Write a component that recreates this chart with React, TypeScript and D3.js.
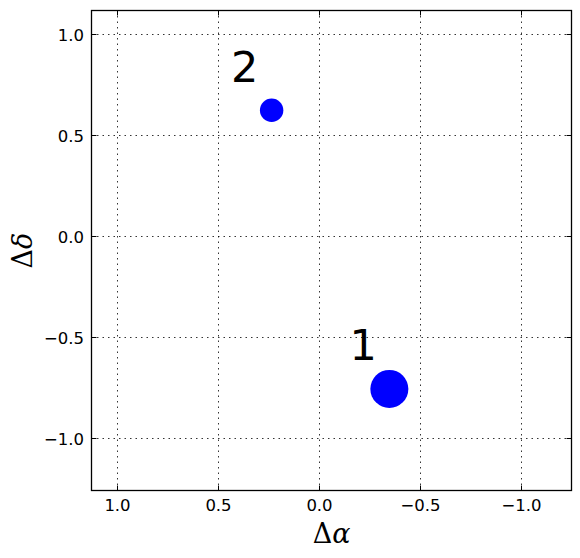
import React from "react";
import * as d3 from "d3";

const pointIds = ["1", "2"];
const pointX = [-0.35, 0.233];
const pointY = [-0.757, 0.623];
const pointR = [19, 11.7];
const labelX = [-0.22, 0.367];
const labelY = [-0.615, 0.762];
const xTicks = [1.0, 0.5, 0.0, -0.5, -1.0];
const yTicks = [1.0, 0.5, 0.0, -0.5, -1.0];
const xDomain = [1.125, -1.252];
const yDomain = [-1.26, 1.117];

const W = 580, H = 558;
const L = 91.5, R = 571.5, T = 10.5, B = 490.5;

const fmt = (v: number) => (v < 0 ? "\u2212" : "") + Math.abs(v).toFixed(1);

export default function App() {
  const x = d3.scaleLinear().domain(xDomain).range([L, R]);
  const y = d3.scaleLinear().domain(yDomain).range([B, T]);
  const tickLen = 5;
  const font = "DejaVu Sans, sans-serif";
  const tfs = 16.5;
  return (
    <svg width={W} height={H} style={{ position: "absolute", left: 0, top: 0 }}>
      <rect x={0} y={0} width={W} height={H} fill="#fff" />
      {xTicks.map((t) => (
        <line key={"gx" + t} x1={Math.round(x(t)) + 0.5} x2={Math.round(x(t)) + 0.5} y1={T} y2={B}
          stroke="#000" strokeWidth={0.8} strokeDasharray="1.5,4" />
      ))}
      {yTicks.map((t) => (
        <line key={"gy" + t} y1={Math.round(y(t)) + 0.5} y2={Math.round(y(t)) + 0.5} x1={L} x2={R}
          stroke="#000" strokeWidth={0.8} strokeDasharray="1.5,4" />
      ))}
      {pointIds.map((id, i) => (
        <circle key={"p" + id} cx={x(pointX[i])} cy={y(pointY[i])} r={pointR[i]} fill="#0000ff" />
      ))}
      {pointIds.map((id, i) => (
        <text key={"l" + id} x={x(labelX[i])} y={y(labelY[i])} fontFamily={font} fontSize={43}
          textAnchor="middle" fill="#000">{id}</text>
      ))}
      {xTicks.map((t) => {
        const px = Math.round(x(t)) + 0.5;
        return (
          <g key={"tx" + t}>
            <line x1={px} x2={px} y1={B} y2={B - tickLen} stroke="#000" />
            <line x1={px} x2={px} y1={T} y2={T + tickLen} stroke="#000" />
            <text x={px} y={511} fontFamily={font} fontSize={tfs} textAnchor="middle">{fmt(t)}</text>
          </g>
        );
      })}
      {yTicks.map((t) => {
        const py = Math.round(y(t)) + 0.5;
        return (
          <g key={"ty" + t}>
            <line y1={py} y2={py} x1={L} x2={L + tickLen} stroke="#000" />
            <line y1={py} y2={py} x1={R} x2={R - tickLen} stroke="#000" />
            <text x={84} y={py + 6} fontFamily={font} fontSize={tfs} textAnchor="end">{fmt(t)}</text>
          </g>
        );
      })}
      <rect x={L} y={T} width={R - L} height={B - T} fill="none" stroke="#000" strokeWidth={1.3} />
      <text x={(L + R) / 2} y={543} fontFamily="DejaVu Serif, serif" fontSize={27} textAnchor="middle">
        Δ<tspan fontStyle="italic">α</tspan>
      </text>
      <text transform={`translate(32, ${(T + B) / 2}) rotate(-90)`} fontFamily="DejaVu Serif, serif"
        fontSize={27} textAnchor="middle">
        Δ<tspan fontStyle="italic">δ</tspan>
      </text>
    </svg>
  );
}
